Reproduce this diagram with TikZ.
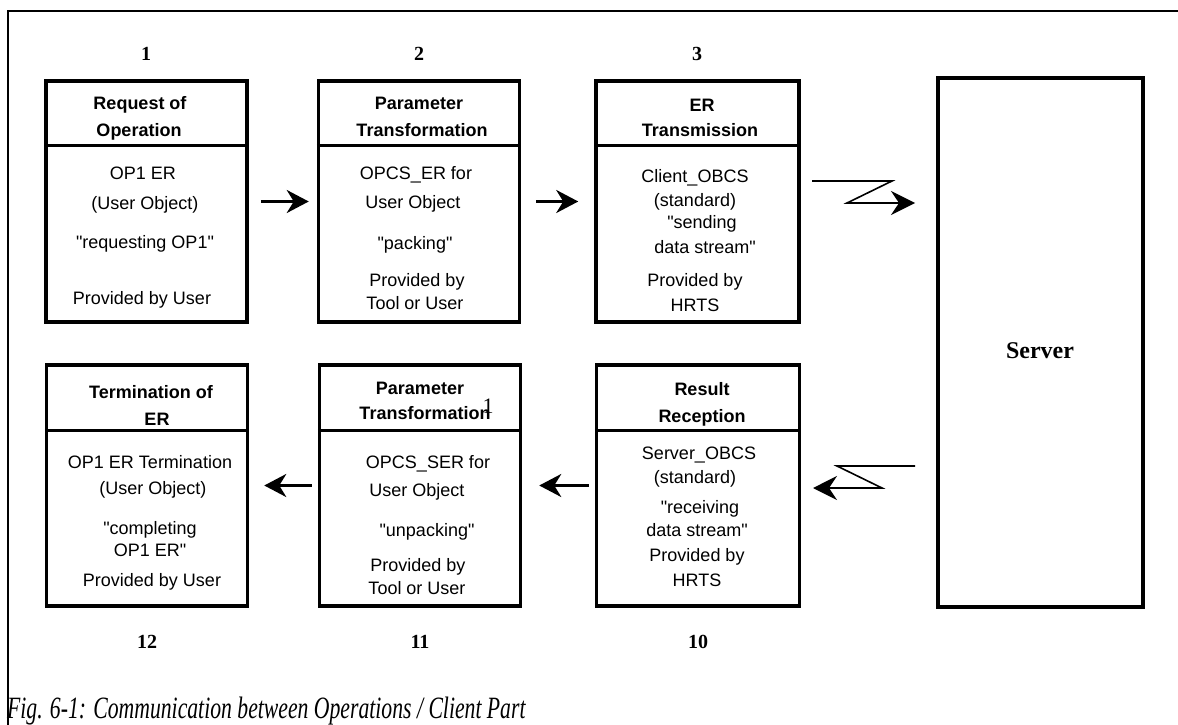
\documentclass[tikz,border=0pt]{standalone}
\usepackage{fontspec}
\usepackage{graphicx}
\setmainfont{Liberation Serif}
\newfontfamily\arialf{Liberation Sans}
\usetikzlibrary{arrows.meta,calc}
\begin{document}
\begin{tikzpicture}[x=1pt,y=-1pt,
  opbox/.style={draw,line width=3.5pt,minimum width=201pt,minimum height=241pt,inner sep=0pt},
  srvbox/.style={draw,line width=3.5pt,minimum width=205pt,minimum height=529pt,inner sep=0pt},
  divider/.style={line width=3pt},
  hd/.style={font=\arialf\fontsize{18}{18}\selectfont\bfseries,anchor=base,inner sep=0pt},
  bd/.style={font=\arialf\fontsize{18}{18}\selectfont,anchor=base,inner sep=0pt},
  num/.style={font=\fontsize{20}{20}\selectfont\bfseries,inner sep=0pt},
  arr/.style={line width=3pt,-{Stealth[length=22pt,width=23pt,inset=7pt]}},
  bolt/.style={line width=1.6pt,-{Stealth[length=24pt,width=24pt,inset=8pt]}},
  frame/.style={line width=2.5pt}
]
\useasboundingbox (0,0) rectangle (1178,725);
% outer frame
\coordinate (fr) at (1178,11);
\coordinate (fl) at (8,11);
\coordinate (fb) at (8,725);
\draw[frame] (fr) -- (fl) -- (fb);

% boxes
\node[opbox] (b1) at (146.5,201.5) {};
\node[opbox] (b2) at (419,201.5) {};
\node[opbox,minimum width=203pt] (b3) at (697.5,201.5) {};
\node[opbox] (b12) at (147,485.5) {};
\node[opbox] (b11) at (420,485.5) {};
\node[opbox,minimum width=203pt] (b10) at (698,485.5) {};
\node[srvbox] (srv) at (1040.5,342.5) {};
\node[font=\fontsize{24}{24}\selectfont\bfseries,inner sep=0pt] (srvlabel) at (1040,351) {Server};

\foreach \b in {b1,b2,b3}{
  \draw[divider] ($(\b.north west)+(0,66)$) -- ($(\b.north east)+(0,66)$);
}
\foreach \b in {b12,b11,b10}{
  \draw[divider] ($(\b.north west)+(0,67)$) -- ($(\b.north east)+(0,67)$);
}

% numbers
\node[num] (n1) at (146,54) {1};
\node[num] (n2) at (419,54) {2};
\node[num] (n3) at (697,54) {3};
\node[num] (n12) at (147,642) {12};
\node[num] (n11) at (420,642) {11};
\node[num] (n10) at (698,642) {10};

% box 1
\node[hd] (t1a) at (140,109) {Request of};
\node[hd] (t1b) at (139,136) {Operation};
\node[bd] (t1c) at (143,179) {OP1 ER};
\node[bd] (t1d) at (145,209) {(User Object)};
\node[bd] (t1e) at (145,248) {"requesting OP1"};
\node[bd] (t1f) at (142,304) {Provided by User};

% box 2
\node[hd] (t2a) at (419,109) {Parameter};
\node[hd] (t2b) at (422,136) {Transformation};
\node[bd] (t2c) at (416,179) {OPCS\_ER for};
\node[bd] (t2d) at (413,208) {User Object};
\node[bd] (t2e) at (415,249) {"packing"};
\node[bd] (t2f) at (417,286) {Provided by};
\node[bd] (t2g) at (415,309) {Tool or User};

% box 3
\node[hd] (t3a) at (702,111) {ER};
\node[hd] (t3b) at (700,136) {Transmission};
\node[bd] (t3c) at (695,182) {Client\_OBCS};
\node[bd] (t3d) at (695,206) {(standard)};
\node[bd] (t3e) at (702,228) {"sending};
\node[bd] (t3f) at (705,253) {data stream"};
\node[bd] (t3g) at (695,286) {Provided by};
\node[bd] (t3h) at (695,311) {HRTS};

% box 12
\node[hd] (t12a) at (151,398) {Termination of};
\node[hd] (t12b) at (157,425) {ER};
\node[bd] (t12c) at (150,468) {OP1 ER Termination};
\node[bd] (t12d) at (153,494) {(User Object)};
\node[bd] (t12e) at (150,534) {"completing};
\node[bd] (t12f) at (150,556) {OP1 ER"};
\node[bd] (t12g) at (152,586) {Provided by User};

% box 11
\node[hd] (t11a) at (420,394) {Parameter};
\node[hd] (t11b) at (425,419) {Transformation};
\node[font=\fontsize{22}{22}\selectfont,inner sep=0pt] (stray) at (488,406) {1};
\node[bd] (t11c) at (428,468) {OPCS\_SER for};
\node[bd] (t11d) at (417,496) {User Object};
\node[bd] (t11e) at (427,536) {"unpacking"};
\node[bd] (t11f) at (418,571) {Provided by};
\node[bd] (t11g) at (417,594) {Tool or User};

% box 10
\node[hd] (t10a) at (702,395) {Result};
\node[hd] (t10b) at (702,422) {Reception};
\node[bd] (t10c) at (699,459) {Server\_OBCS};
\node[bd] (t10d) at (695,483) {(standard)};
\node[bd] (t10e) at (700,513) {"receiving};
\node[bd] (t10f) at (697,536) {data stream"};
\node[bd] (t10g) at (697,561) {Provided by};
\node[bd] (t10h) at (697,586) {HRTS};

% straight arrows
\draw[arr] ([xshift=12pt]b1.east) -- ([xshift=-8pt]b2.west);
\draw[arr] ([xshift=15pt]b2.east) -- ([xshift=-16pt]b3.west);
\draw[arr] ([xshift=-6pt]b10.west) -- ([xshift=17pt]b11.east);
\draw[arr] ([xshift=-6pt]b11.west) -- ([xshift=15pt]b12.east);

% lightning arrows
\coordinate (boltAs) at (812,181);
\coordinate (boltAe) at (915,203);
\draw[bolt] (boltAs) -- ++(80,0) -- ++(-45,22) -- (boltAe);
\coordinate (boltBs) at (915,466);
\coordinate (boltBe) at (813,488);
\draw[bolt] (boltBs) -- ++(-78,0) -- ++(45,22) -- (boltBe);

% caption
\node[anchor=base west,inner sep=0pt] (cap) at (7,718) {\scalebox{0.7}[1]{\fontsize{31}{31}\selectfont\itshape Fig. 6-1: Communication between Operations / Client Part}};
\end{tikzpicture}
\end{document}
